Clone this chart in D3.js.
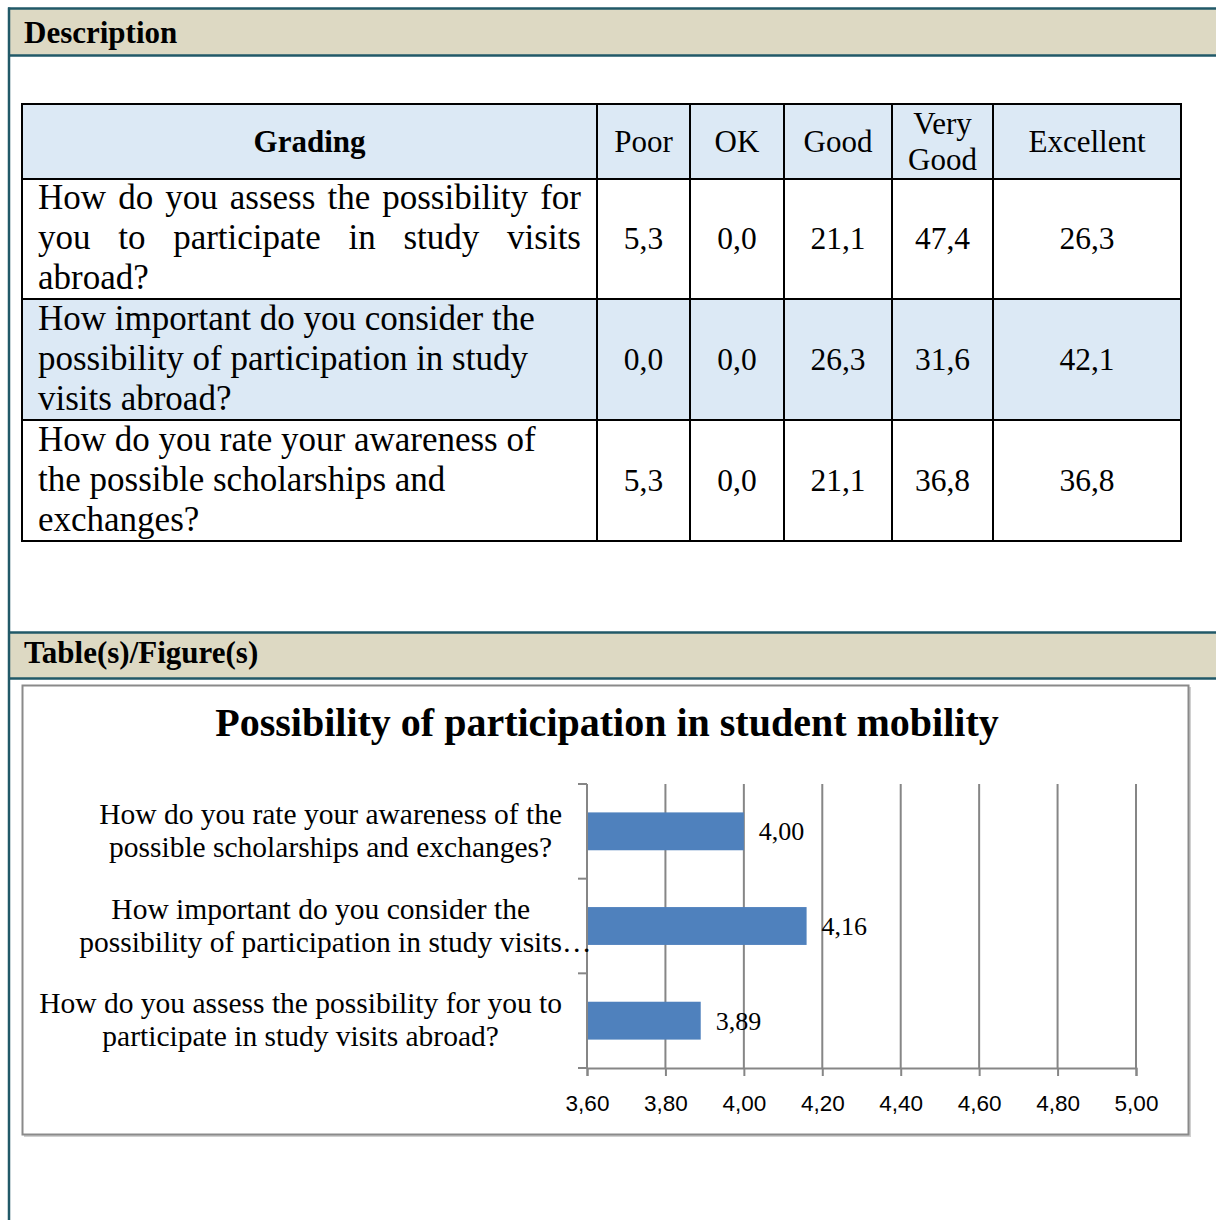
<!DOCTYPE html>
<html>
<head>
<meta charset="utf-8">
<script src="https://cdn.jsdelivr.net/npm/d3@7"></script>
<style>
  body { margin: 0; background: #fff; }
  svg { display: block; }
</style>
</head>
<body>
<script>
const W = 1216;
const H = 1220;
const SERIF = "'Liberation Serif', serif";
const SANS = "'Liberation Sans', sans-serif";
const FRAME = "#215968";
const BAND = "#ddd9c3";
const LIGHT_BLUE = "#dce9f5";
const BAR = "#4f81bd";
const GRID = "#868686";

// table data
const tableHeaders = ["Grading", "Poor", "OK", "Good", "Very Good", "Excellent"];
const tableQuestions = [
  ["How do you assess the possibility for", "you to participate in study visits", "abroad?"],
  ["How important do you consider the", "possibility of participation in study", "visits abroad?"],
  ["How do you rate your awareness of", "the possible scholarships and", "exchanges?"]
];
const tablePoor = [5.3, 0.0, 5.3];
const tableOk = [0.0, 0.0, 0.0];
const tableGood = [21.1, 26.3, 21.1];
const tableVeryGood = [47.4, 31.6, 36.8];
const tableExcellent = [26.3, 42.1, 36.8];

// chart data (top to bottom)
const chartTitle = "Possibility of participation in student mobility";
const chartCategories = [
  ["How do you rate your awareness of the", "possible scholarships and exchanges?"],
  ["How important do you consider the", "possibility of participation in study visits"],
  ["How do you assess the possibility for you to", "participate in study visits abroad?"]
];
const chartValues = [4.00, 4.16, 3.89];
const axisTicks = [3.6, 3.8, 4.0, 4.2, 4.4, 4.6, 4.8, 5.0];

const locale = d3.formatLocale({ decimal: ",", thousands: ".", grouping: [3], currency: ["", ""] });
const fmt1 = locale.format(".1f");
const fmt2 = locale.format(".2f");

const svg = d3.select("body").append("svg")
  .attr("width", W).attr("height", H)
  .attr("viewBox", [0, 0, W, H]);

// ---- frame and section bands ----
function band(y0, y1, label, baseline) {
  svg.append("rect").attr("x", 9).attr("y", y0).attr("width", W - 9).attr("height", y1 - y0).attr("fill", BAND);
  svg.append("line").attr("x1", 8).attr("x2", W).attr("y1", y0).attr("y2", y0)
    .attr("stroke", FRAME).attr("stroke-width", 2.5);
  svg.append("line").attr("x1", 8).attr("x2", W).attr("y1", y1).attr("y2", y1)
    .attr("stroke", FRAME).attr("stroke-width", 2.5);
  svg.append("text").attr("x", 24).attr("y", baseline)
    .attr("font-family", SERIF).attr("font-weight", "bold").attr("font-size", 31)
    .text(label);
}
band(8.5, 55.5, "Description", 43);
band(632.5, 678.5, "Table(s)/Figure(s)", 663);
svg.append("line").attr("x1", 9).attr("x2", 9).attr("y1", 7.5).attr("y2", H)
  .attr("stroke", FRAME).attr("stroke-width", 2.5);

// ---- table ----
const colEdges = [22, 597, 690, 784, 892, 993, 1181];
const rowEdges = [104, 179, 299, 420, 541];
const HEAD_FONT = 31;
const BODY_FONT = 35;
const NUM_FONT = 31.5;
const table = svg.append("g");

const rows = tableQuestions.map((q, i) => ({
  question: q,
  values: [tablePoor[i], tableOk[i], tableGood[i], tableVeryGood[i], tableExcellent[i]]
}));

// shaded rows: header and second body row
[0, 2].forEach(r => {
  table.append("rect")
    .attr("x", colEdges[0]).attr("y", rowEdges[r])
    .attr("width", colEdges[colEdges.length - 1] - colEdges[0])
    .attr("height", rowEdges[r + 1] - rowEdges[r])
    .attr("fill", LIGHT_BLUE);
});

// header cells
tableHeaders.forEach((h, c) => {
  const cx = (colEdges[c] + colEdges[c + 1]) / 2;
  const cy = (rowEdges[0] + rowEdges[1]) / 2;
  const lines = h === "Very Good" ? ["Very", "Good"] : [h];
  const t = table.append("text")
    .attr("font-family", SERIF).attr("font-size", HEAD_FONT)
    .attr("font-weight", c === 0 ? "bold" : "normal")
    .attr("text-anchor", "middle");
  lines.forEach((ln, i) => {
    t.append("tspan").attr("x", cx)
      .attr("y", cy + 10 + (i - (lines.length - 1) / 2) * 36)
      .text(ln);
  });
});

// body cells
const LINE_H = 40;
const PAD = 16;
rows.forEach((row, r) => {
  const y0 = rowEdges[r + 1], y1 = rowEdges[r + 2];
  const cy = (y0 + y1) / 2;
  const xL = colEdges[0] + PAD, xR = colEdges[1] - PAD;
  row.question.forEach((ln, i) => {
    const baseline = cy + 10 + (i - 1) * LINE_H;
    const justify = r === 0 && i < row.question.length - 1;
    if (!justify) {
      table.append("text").attr("x", xL).attr("y", baseline)
        .attr("font-family", SERIF).attr("font-size", BODY_FONT).text(ln);
    } else {
      const words = ln.split(" ");
      const ws = words.map(w => table.append("text").attr("y", baseline)
        .attr("font-family", SERIF).attr("font-size", BODY_FONT).text(w));
      const widths = ws.map(s => s.node().getComputedTextLength());
      const gap = (xR - xL - d3.sum(widths)) / (words.length - 1);
      let x = xL;
      ws.forEach((s, k) => { s.attr("x", x); x += widths[k] + gap; });
    }
  });
  row.values.forEach((v, c) => {
    table.append("text")
      .attr("x", (colEdges[c + 1] + colEdges[c + 2]) / 2)
      .attr("y", cy + 10)
      .attr("text-anchor", "middle")
      .attr("font-family", SERIF).attr("font-size", NUM_FONT)
      .text(fmt1(v));
  });
});

// grid lines of the table
rowEdges.forEach(y => {
  table.append("line").attr("x1", colEdges[0] - 1).attr("x2", colEdges[colEdges.length - 1] + 1)
    .attr("y1", y).attr("y2", y).attr("stroke", "#000").attr("stroke-width", 2);
});
colEdges.forEach(x => {
  table.append("line").attr("x1", x).attr("x2", x)
    .attr("y1", rowEdges[0]).attr("y2", rowEdges[rowEdges.length - 1])
    .attr("stroke", "#000").attr("stroke-width", 2);
});

// ---- chart ----
const chart = svg.append("g");
chart.append("rect").attr("x", 24).attr("y", 687).attr("width", 1167).attr("height", 450)
  .attr("fill", "#d0d0d0");
chart.append("rect").attr("x", 22.5).attr("y", 685.5).attr("width", 1166).attr("height", 449)
  .attr("fill", "#fff").attr("stroke", "#8a8a8a").attr("stroke-width", 2);

chart.append("text").attr("x", 607).attr("y", 736)
  .attr("text-anchor", "middle")
  .attr("font-family", SERIF).attr("font-weight", "bold").attr("font-size", 40)
  .text(chartTitle);

const x = d3.scaleLinear().domain([3.6, 5.0]).range([587, 1136]);
const y = d3.scaleBand().domain(d3.range(chartCategories.length)).range([784, 1068]);

// vertical gridlines
chart.append("g").selectAll("line")
  .data(axisTicks.slice(1))
  .join("line")
  .attr("x1", d => x(d)).attr("x2", d => x(d))
  .attr("y1", y.range()[0]).attr("y2", y.range()[1])
  .attr("stroke", GRID).attr("stroke-width", 2);

// bars
const barH = y.bandwidth() * 0.4;
chart.append("g").selectAll("rect")
  .data(chartValues)
  .join("rect")
  .attr("x", x(3.6))
  .attr("y", (d, i) => y(i) + (y.bandwidth() - barH) / 2)
  .attr("width", d => x(d) - x(3.6))
  .attr("height", barH)
  .attr("fill", BAR);

// value labels
chart.append("g").selectAll("text")
  .data(chartValues)
  .join("text")
  .attr("x", d => x(d) + 15)
  .attr("y", (d, i) => y(i) + y.bandwidth() / 2 + 9)
  .attr("font-family", SERIF).attr("font-size", 26)
  .text(d => fmt2(d));

// x axis
const xAxis = chart.append("g")
  .attr("transform", `translate(0,${y.range()[1]})`)
  .call(d3.axisBottom(x).tickValues(axisTicks).tickFormat(fmt2).tickSize(8).tickPadding(19));
xAxis.select(".domain").attr("stroke", GRID).attr("stroke-width", 2);
xAxis.selectAll(".tick line").attr("stroke", GRID).attr("stroke-width", 2);
xAxis.selectAll(".tick text").attr("font-family", SANS).attr("font-size", 22.5).attr("fill", "#000");

// y axis line and boundary ticks
chart.append("line").attr("x1", x(3.6)).attr("x2", x(3.6))
  .attr("y1", y.range()[0]).attr("y2", y.range()[1])
  .attr("stroke", GRID).attr("stroke-width", 2);
chart.append("g").selectAll("line")
  .data(d3.range(chartCategories.length + 1))
  .join("line")
  .attr("x1", x(3.6) - 9).attr("x2", x(3.6))
  .attr("y1", i => y.range()[0] + i * y.step())
  .attr("y2", i => y.range()[0] + i * y.step())
  .attr("stroke", GRID).attr("stroke-width", 2);

// category labels: block right-aligned at 562, lines centred in block
const LABEL_FONT = 29.5;
const labelRight = 562;
chartCategories.forEach((lines, i) => {
  const cy = y(i) + y.bandwidth() / 2;
  const texts = lines.map((ln, k) => chart.append("text")
    .attr("y", cy - 16.5 + k * 33 + 9)
    .attr("font-family", SERIF).attr("font-size", LABEL_FONT)
    .text(ln));
  const widths = texts.map(t => t.node().getComputedTextLength());
  const blockW = d3.max(widths);
  const center = labelRight - blockW / 2;
  texts.forEach((t, k) => t.attr("x", center - widths[k] / 2));
  // truncated second label gets an ellipsis after the measured text
  if (i === 1) texts[1].text(lines[1] + "\u2026");
});
</script>
</body>
</html>
